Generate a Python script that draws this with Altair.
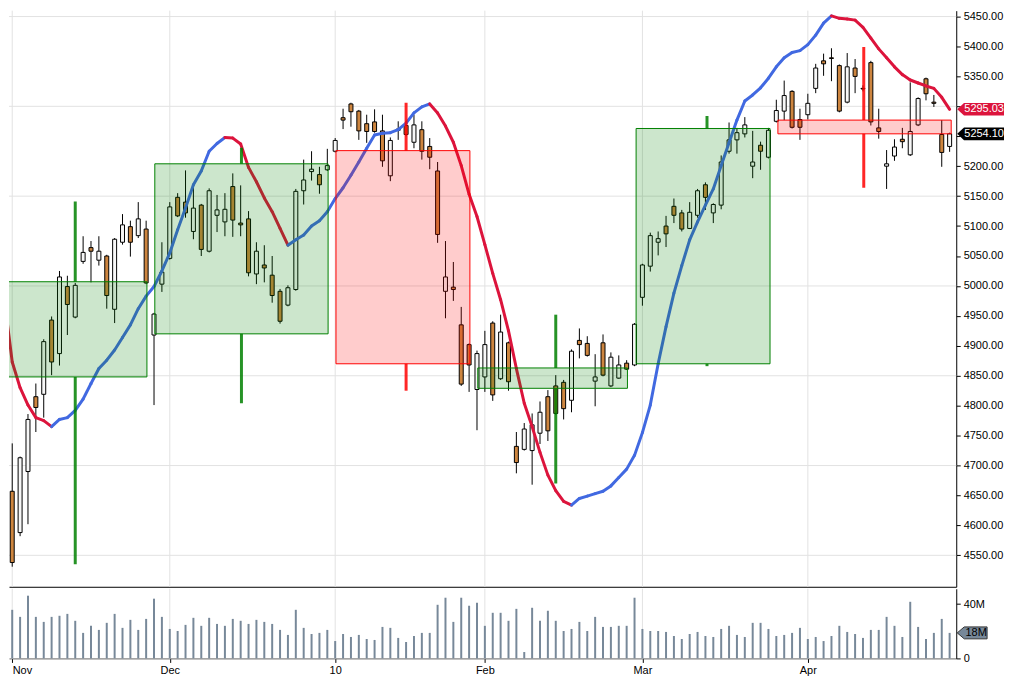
import altair as alt
import pandas as pd

# ---------------- data ----------------
opens = [4657, 4588, 4690, 4815, 4819, 4943, 4887, 4999, 4948, 5041,
         5064, 5043, 5050, 4961, 5073, 5099, 5084, 5095, 4918, 5003,
         5046, 5148, 5140, 5091, 5135, 5058, 5118, 5107, 5166, 5105,
         5112, 5020, 5035, 5018, 4991, 4968, 4994, 5159, 5191, 5186,
         5194, 5225, 5281, 5304, 5292, 5271, 5274, 5259, 5184, 5260,
         5268, 5240, 5261, 5233, 5192, 4991, 4998, 4935, 4902, 4827,
         4848, 4938, 4845, 4905, 4732, 4727, 4725, 4754, 4815, 4833,
         4839, 4809, 4909, 4904, 4841, 4905, 4833, 4846, 4871, 4868,
         4981, 5033, 5073, 5100, 5133, 5122, 5096, 5118, 5169, 5122,
         5135, 5225, 5244, 5254, 5200, 5235, 5215, 5275, 5292, 5325,
         5278, 5286, 5330, 5376, 5381, 5368, 5307, 5364, 5330, 5373,
         5264, 5200, 5217, 5245, 5219, 5269, 5346, 5307, 5253, 5233]
highs = [4737, 4715, 4786, 4837, 4911, 4949, 5025, 5017, 5005, 5083,
         5075, 5083, 5052, 5080, 5120, 5109, 5140, 5109, 4955, 5073,
         5140, 5155, 5193, 5169, 5137, 5163, 5152, 5155, 5188, 5168,
         5125, 5073, 5068, 5050, 4995, 5001, 5162, 5211, 5225, 5199,
         5229, 5247, 5296, 5306, 5294, 5286, 5295, 5286, 5248, 5275,
         5275, 5286, 5275, 5247, 5207, 5075, 5040, 4965, 4904, 4892,
         4925, 4941, 4952, 4907, 4756, 4771, 4787, 4807, 4826, 4851,
         4843, 4894, 4929, 4916, 4886, 4919, 4889, 4884, 4876, 4938,
         5037, 5089, 5091, 5117, 5146, 5127, 5140, 5162, 5173, 5138,
         5218, 5273, 5264, 5282, 5259, 5241, 5264, 5311, 5343, 5327,
         5296, 5321, 5371, 5388, 5397, 5370, 5389, 5379, 5335, 5376,
         5296, 5227, 5245, 5264, 5340, 5315, 5348, 5319, 5277, 5256]
lows = [4531, 4582, 4602, 4756, 4780, 4851, 4867, 4918, 4946, 5037,
        5006, 5034, 4962, 4938, 5069, 5049, 5080, 5003, 4801, 4990,
        5044, 5115, 5114, 5078, 5050, 5056, 5090, 5083, 5082, 5083,
        5016, 5003, 5006, 4972, 4937, 4966, 4992, 5136, 5176, 5154,
        5192, 5223, 5262, 5266, 5244, 5239, 5256, 5199, 5175, 5244,
        5250, 5230, 5211, 5195, 5072, 4946, 4975, 4833, 4823, 4759,
        4823, 4808, 4843, 4825, 4687, 4725, 4668, 4736, 4741, 4785,
        4777, 4789, 4879, 4882, 4799, 4849, 4831, 4845, 4860, 4866,
        4967, 5024, 5051, 5065, 5105, 5091, 5095, 5114, 5127, 5105,
        5128, 5221, 5221, 5248, 5180, 5194, 5213, 5273, 5277, 5263,
        5244, 5278, 5322, 5351, 5342, 5290, 5305, 5322, 5325, 5268,
        5246, 5162, 5209, 5230, 5217, 5267, 5310, 5299, 5199, 5224]
closes = [4538, 4713, 4777, 4797, 4907, 4873, 5015, 4969, 5001, 5056,
          5058, 5058, 4984, 5078, 5102, 5073, 5112, 5005, 4953, 5023,
          5132, 5117, 5122, 5130, 5061, 5159, 5127, 5128, 5110, 5102,
          5022, 5058, 5030, 4984, 4941, 4997, 5158, 5177, 5195, 5169,
          5201, 5243, 5277, 5291, 5259, 5258, 5258, 5209, 5243, 5262,
          5253, 5269, 5225, 5215, 5086, 5015, 4994, 4836, 4868, 4887,
          4902, 4818, 4923, 4840, 4705, 4761, 4768, 4789, 4758, 4787,
          4795, 4891, 4902, 4884, 4848, 4851, 4881, 4868, 4861, 4936,
          5035, 5084, 5079, 5087, 5118, 5095, 5123, 5159, 5148, 5136,
          5207, 5244, 5256, 5269, 5207, 5225, 5260, 5293, 5318, 5265,
          5265, 5305, 5364, 5371, 5380, 5292, 5366, 5350, 5329, 5274,
          5258, 5204, 5232, 5241, 5258, 5313, 5321, 5305, 5223, 5254.10]
# volume in millions
volumes = [35.8, 30.6, 46.2, 30.6, 26.9, 30.6, 31.4, 32.8, 27.7, 18.8,
           24.0, 21.0, 26.2, 32.8, 22.5, 28.4, 21.0, 29.1, 44.0, 30.6,
           21.7, 20.2, 24.7, 29.9, 24.0, 29.9, 25.4, 24.0, 29.1, 27.7,
           25.4, 28.4, 26.9, 25.4, 21.0, 17.3, 35.8, 22.5, 18.0, 18.8,
           21.0, 12.8, 18.0, 15.8, 17.3, 14.3, 13.6, 23.2, 22.5, 15.1,
           12.1, 16.5, 18.8, 18.8, 39.5, 44.7, 26.9, 44.7, 38.8, 41.0,
           24.0, 33.6, 33.6, 27.7, 36.5, 4.7, 37.3, 27.7, 35.1, 27.7,
           20.2, 21.7, 26.9, 20.2, 30.6, 23.2, 23.2, 24.0, 24.0, 44.7,
           21.7, 20.2, 20.2, 19.5, 16.5, 14.3, 18.0, 19.5, 16.5, 15.8,
           21.7, 24.0, 17.3, 15.8, 26.2, 26.2, 21.7, 16.5, 17.3, 18.8,
           22.5, 14.3, 15.8, 12.8, 16.5, 24.0, 19.5, 18.0, 15.1, 21.0,
           21.0, 30.6, 24.0, 15.8, 41.7, 23.2, 14.3, 18.8, 29.1, 18.8]
# smoothed trend line, bar index -1 .. 119
smooth_start_idx = -1
smooth_line = [4978,
               4873, 4830, 4801, 4780, 4775, 4765, 4777, 4780, 4792, 4811,
               4837, 4862, 4876, 4893, 4914, 4935, 4962, 4983, 4999, 5025,
               5055, 5094, 5130, 5169, 5192, 5225, 5238, 5248, 5247, 5237,
               5198, 5174, 5147, 5124, 5096, 5068, 5077, 5085, 5100, 5109,
               5124, 5146, 5164, 5185, 5207, 5230, 5252, 5255, 5256, 5261,
               5272, 5289, 5299, 5304, 5289, 5267, 5240, 5201, 5153, 5116,
               5069, 5021, 4977, 4925, 4862, 4804, 4765, 4722, 4684, 4658,
               4640, 4634, 4645, 4649, 4653, 4657, 4666, 4680, 4694, 4717,
               4755, 4801, 4870, 4932, 4988, 5034, 5077, 5107, 5135, 5162,
               5201, 5239, 5277, 5309, 5319, 5331, 5347, 5366, 5381, 5390,
               5393, 5403, 5419, 5439, 5451, 5447, 5446, 5444, 5432, 5414,
               5396, 5381, 5366, 5353, 5344, 5339, 5334, 5330, 5315, 5295.03]

# monthly boxes (open/close body, high/low whiskers), in bar-index units
box_months = ["Nov", "Dec", "Jan", "Feb", "Mar", "Apr"]
box_start = [-0.9, 18.1, 41.1, 59.1, 79.2, 97.2]
box_end = [17.1, 40.1, 58.1, 78.1, 96.2, 119.2]
box_mid = [8.0, 29.1, 50.0, 69.0, 88.2, 108.1]
box_open = [4848, 4920, 5226, 4829, 4870, 5277]
box_close = [5007, 5204, 4870, 4863, 5263, 5254.10]
box_high = [5141, 5231, 5306, 4952, 5284, 5399]
box_low = [4535, 4804, 4825, 4670, 4866, 5164]

# axes
month_labels = ["Nov", "Dec", "10", "Feb", "Mar", "Apr"]
month_tick_idx = [0, 20, 41, 60, 80, 101]
price_ticks = [4550, 4600, 4650, 4700, 4750, 4800, 4850, 4900, 4950, 5000,
               5050, 5100, 5150, 5200, 5250, 5300, 5350, 5400, 5450]
grid_levels = [4550, 4700, 4850, 5000, 5150, 5300, 5450]
vol_ticks = [0, 40]

# ---------------- layout ----------------
W, HP, HV = 952, 579, 70
FONT = "Liberation Sans"
X_DOMAIN = [-0.41, 119.84]
Y_DOMAIN = [4497.5, 5459.8]
V_DOMAIN = [0, 51.3]
BLUE, RED = "#4169e1", "#dc143c"
GRID = "#e2e2e2"

n = len(opens)
cdf = pd.DataFrame({"idx": list(range(n)), "open": opens, "high": highs,
                    "low": lows, "close": closes, "vol": volumes})

seg = []
for k in range(len(smooth_line) - 1):
    seg.append({"x": smooth_start_idx + k, "x2": smooth_start_idx + k + 1,
                "y": smooth_line[k], "y2": smooth_line[k + 1]})
ldf = pd.DataFrame(seg)

bdf = pd.DataFrame({"m": box_months, "start": box_start, "end": box_end,
                    "mid": box_mid, "open": box_open, "close": box_close})
wk = []
for i in range(len(box_months)):
    top = max(box_open[i], box_close[i])
    bot = min(box_open[i], box_close[i])
    up = box_close[i] >= box_open[i]
    wk.append({"mid": box_mid[i], "a": box_high[i], "b": top, "up": up})
    wk.append({"mid": box_mid[i], "a": bot, "b": box_low[i], "up": up})
wdf = pd.DataFrame(wk)

# price-axis labels hidden under the two price tags (the tags cover them)
tag_values = [smooth_line[-1], closes[-1]]
hidden = [t for t in price_ticks if any(abs(t - v) < 10 for v in tag_values)]
hide_expr = " || ".join("datum.value == %d" % h for h in hidden) or "false"

xs = alt.Scale(domain=X_DOMAIN, nice=False, zero=False, padding=0)
ys = alt.Scale(domain=Y_DOMAIN, nice=False, zero=False, padding=0)
vs = alt.Scale(domain=V_DOMAIN, nice=False, zero=False, padding=0)

px_axis = alt.Axis(title=None, labels=False, ticks=False, grid=False,
                   domain=True, domainColor="black", domainWidth=1)
py_axis = alt.Axis(orient="right", title=None, values=price_ticks,
                   labelExpr="(%s) ? '' : format(datum.value, '.2f')" % hide_expr,
                   grid=False, domainColor="black", tickColor="black", tickSize=4,
                   labelPadding=3, labelFontSize=11, labelFont=FONT, labelColor="black")
lab_expr = "[" + ",".join("'%s'" % s for s in month_labels) + "][indexof([" + \
    ",".join(str(v) for v in month_tick_idx) + "], datum.value)]"
vx_axis = alt.Axis(title=None, values=month_tick_idx, labelExpr=lab_expr, grid=False,
                   labelFlush=8,
                   domainColor="#666666", tickColor="black", tickSize=4, labelPadding=2,
                   labelFontSize=11, labelFont=FONT, labelColor="black")
vy_axis = alt.Axis(orient="right", title=None, values=vol_ticks,
                   labelExpr="datum.value == 0 ? '0' : datum.value + 'M'",
                   grid=False, domainColor="black", tickColor="black", tickSize=4,
                   labelPadding=3, labelFontSize=11, labelFont=FONT, labelColor="black")


def PX(f):
    return alt.X(f, type="quantitative", scale=xs, axis=px_axis)


def PY(f):
    return alt.Y(f, type="quantitative", scale=ys, axis=py_axis)


def VX(f):
    return alt.X(f, type="quantitative", scale=xs, axis=vx_axis)


def VY(f):
    return alt.Y(f, type="quantitative", scale=vs, axis=vy_axis)


# ---------------- price panel ----------------
hgrid = alt.Chart(pd.DataFrame({"lvl": grid_levels})).mark_rule(
    color=GRID, strokeWidth=1).encode(y=PY("lvl"))
vgrid = alt.Chart(pd.DataFrame({"m": month_tick_idx})).mark_rule(
    color=GRID, strokeWidth=1).encode(x=PX("m"))

wicks = alt.Chart(cdf).mark_rule(color="black", strokeWidth=1, clip=True).encode(
    x=PX("idx"), y=PY("low"), y2="high")
bodies = alt.Chart(cdf).mark_bar(size=4, stroke="black", strokeWidth=1, clip=True).encode(
    x=PX("idx"), y=PY("open"), y2="close",
    fill=alt.condition("datum.close >= datum.open", alt.value("#f7f7f7"), alt.value("#cd853f")))

trend = alt.Chart(ldf).mark_rule(strokeWidth=3, strokeCap="round", clip=True).encode(
    x=PX("x"), x2="x2", y=PY("y"), y2="y2",
    color=alt.condition("datum.y2 >= datum.y", alt.value(BLUE), alt.value(RED)))

box_wicks = alt.Chart(wdf).mark_rule(strokeWidth=3, opacity=0.85, clip=True).encode(
    x=PX("mid"), y=PY("a"), y2="b",
    color=alt.condition("datum.up", alt.value("#008000"), alt.value("#ff0000")))
boxes = alt.Chart(bdf).mark_rect(fillOpacity=0.2, strokeWidth=1, clip=True).encode(
    x=PX("start"), x2="end", y=PY("open"), y2="close",
    fill=alt.condition("datum.close >= datum.open", alt.value("#008000"), alt.value("#ff0000")),
    stroke=alt.condition("datum.close >= datum.open", alt.value("#008000"), alt.value("#ff0000")))

TAG = "M-1,0 L-0.71,-0.27 L1,-0.27 L1,0.27 L-0.71,0.27 Z"
tag_df1 = pd.DataFrame({"v": [smooth_line[-1]], "t": ["%.2f" % smooth_line[-1]]})
tag_df2 = pd.DataFrame({"v": [closes[-1]], "t": ["%.2f" % closes[-1]]})
tag1 = alt.Chart(tag_df1).mark_point(shape=TAG, size=2209, filled=True, fill=RED,
                                     opacity=1, strokeWidth=0).encode(
    x=alt.value(W + 24.5), y=PY("v"))
tag1t = alt.Chart(tag_df1).mark_text(font=FONT, fontSize=11, color="white",
                                     align="center", baseline="middle").encode(
    x=alt.value(W + 28), y=PY("v"), text="t:N")
tag2 = alt.Chart(tag_df2).mark_point(shape=TAG, size=2209, filled=True, fill="black",
                                     opacity=1, strokeWidth=0).encode(
    x=alt.value(W + 24.5), y=PY("v"))
tag2t = alt.Chart(tag_df2).mark_text(font=FONT, fontSize=11, color="white",
                                     align="center", baseline="middle").encode(
    x=alt.value(W + 28), y=PY("v"), text="t:N")

price = alt.layer(hgrid, vgrid, wicks, bodies, trend, box_wicks, boxes,
                  tag1, tag1t, tag2, tag2t).properties(width=W, height=HP)

# ---------------- volume panel ----------------
vgrid2 = alt.Chart(pd.DataFrame({"m": month_tick_idx})).mark_rule(
    color=GRID, strokeWidth=1).encode(x=VX("m"))
vbars = alt.Chart(cdf).mark_bar(size=2, color="#778899").encode(x=VX("idx"), y=VY("vol"))
VTAG = "M-1,0 L-0.53,-0.4 L1,-0.4 L1,0.4 L-0.53,0.4 Z"
vtag_df = pd.DataFrame({"v": [volumes[-1]], "t": ["%dM" % int(volumes[-1])]})
vtag = alt.Chart(vtag_df).mark_point(shape=VTAG, size=900, filled=True, fill="#778899",
                                     opacity=1, stroke="#333333", strokeWidth=1).encode(
    x=alt.value(W + 16), y=VY("v"))
vtagt = alt.Chart(vtag_df).mark_text(font=FONT, fontSize=11, color="black",
                                     align="center", baseline="middle").encode(
    x=alt.value(W + 20), y=VY("v"), text="t:N")
volume = alt.layer(vgrid2, vbars, vtag, vtagt).properties(width=W, height=HV)

chart = alt.vconcat(price, volume, spacing=0).properties(
    padding={"left": 0, "top": 0, "right": 0, "bottom": 0},
    background="white",
).configure_view(stroke=None)

chart.save("out.html", embed_options={"renderer": "svg", "actions": False})
